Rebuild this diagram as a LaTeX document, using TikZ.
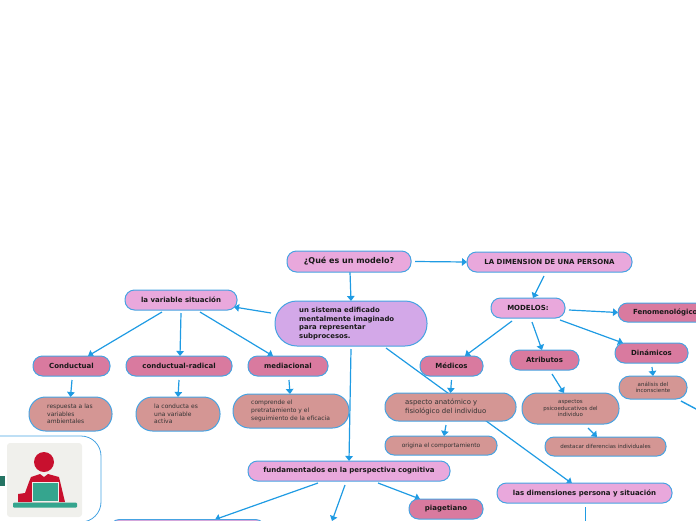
\documentclass[tikz,border=0pt]{standalone}
\usepackage{fontspec}
\setmainfont{DejaVu Sans}
\usetikzlibrary{arrows.meta,backgrounds}
\definecolor{linkblue}{HTML}{1F9BE3}
\definecolor{edgeblue}{HTML}{46A3E2}
\definecolor{pinkfill}{HTML}{E9A8DC}
\definecolor{lilacfill}{HTML}{D3A8E8}
\definecolor{rosefill}{HTML}{D97A9F}
\definecolor{salmonfill}{HTML}{D49694}
\definecolor{redfig}{HTML}{C8102E}
\definecolor{greenfig}{HTML}{35A58E}
\definecolor{greyfig}{HTML}{F0F0EC}
\begin{document}
\begin{tikzpicture}[x=1pt,y=-1pt]
    \tikzset{
        box/.style={draw=edgeblue,line width=1pt,rounded corners=#1,inner sep=0pt,outer sep=0pt},
        box/.default=9.5pt,
        pinkbox/.style={box,fill=pinkfill,font=\bfseries\fontsize{7}{8}\selectfont,text=black!90},
        rosebox/.style={box,fill=rosefill,font=\bfseries\fontsize{7}{8}\selectfont,text=black!90},
        salmonbox/.style={box=#1,fill=salmonfill,font=\fontsize{5.5}{7}\selectfont,text=black!80},
        salmonbox/.default=16.5pt,
        lefttext/.style={anchor=west,align=left,inner sep=0pt,font=\fontsize{6}{7.7}\selectfont,text=black!80},
        link/.style={draw=linkblue,line width=1.2pt,-{Triangle[width=7.5pt,length=5pt]}},
        plainlink/.style={draw=linkblue,line width=1.4pt}
    }
    \useasboundingbox (0,0) rectangle (696,520);
    % top row
    \node [pinkbox,minimum width=124pt,minimum height=21pt,font=\bfseries\fontsize{8}{9}\selectfont] (modelo) at (349,261.5) {¿Qué es un modelo?};
    \node [pinkbox,minimum width=165pt,minimum height=20pt,font=\bfseries\fontsize{7}{8}\selectfont] (dimension) at (549.5,262) {LA DIMENSION DE UNA PERSONA};
    \node [box=22pt,fill=lilacfill,minimum width=152pt,minimum height=45pt] (sistema) at (351,323.5) {};
    \node [lefttext,font=\bfseries\fontsize{6.9}{8.8}\selectfont,text=black!90] (sistematext) at (299,323.5) {un sistema edificado\\mentalmente imaginado\\para representar\\subprocesos.};
    % left branch
    \node [pinkbox,minimum width=112pt,minimum height=20pt] (situacion) at (181,300) {la variable situación};
    \node [rosebox,minimum width=77pt,minimum height=20pt] (conductual) at (71.5,366) {Conductual};
    \node [rosebox,minimum width=106pt,minimum height=20pt] (radical) at (179,366) {conductual-radical};
    \node [rosebox,minimum width=80pt,minimum height=20pt] (mediacional) at (288,366) {mediacional};
    \node [salmonbox,minimum width=83pt,minimum height=34pt] (respuesta) at (70.5,414) {};
    \node [lefttext] (respuestatext) at (47,414) {respuesta a las\\variables\\ambientales};
    \node [salmonbox,minimum width=84pt,minimum height=34pt] (activa) at (178,414) {};
    \node [lefttext] (activatext) at (154,414) {la conducta es\\una variable\\activa};
    \node [salmonbox,minimum width=116pt,minimum height=34pt] (comprende) at (291,411) {};
    \node [lefttext] (comprendetext) at (251,411) {comprende el\\pretratamiento y el\\seguimiento de la eficacia};
    % centre
    \node [pinkbox,minimum width=202pt,minimum height=20pt] (cognitiva) at (349,471) {fundamentados en la perspectiva cognitiva};
    \node [rosebox,minimum width=74pt,minimum height=20pt] (piagetiano) at (446,509) {piagetiano};
    \node [pinkbox,minimum width=155pt,minimum height=20pt] (oculto) at (187.5,529.5) {};
    \coordinate (abajo) at (332,521);
    \node [rosebox,minimum width=63pt,minimum height=20pt] (medicos) at (451.5,366) {Médicos};
    \node [salmonbox=13.5pt,minimum width=131pt,minimum height=28pt] (anatomico) at (450.5,407) {};
    \node [lefttext,font=\fontsize{6.9}{8.2}\selectfont] (anatomicotext) at (405,407) {aspecto anatómico y\\fisiológico del individuo};
    \node [salmonbox=9pt,minimum width=112pt,minimum height=19pt,font=\fontsize{5.9}{7}\selectfont] (origina) at (441,445.5) {origina el comportamiento};
    % right branch
    \node [pinkbox,minimum width=74pt,minimum height=20pt] (modelos) at (528,308) {MODELOS:};
    \node [rosebox,anchor=west,minimum width=100pt,minimum height=19pt,text width=100pt,align=left] (fenomeno) at (618,312.5) {\hspace*{15pt}Fenomenológico};
    \node [rosebox,minimum width=73pt,minimum height=20pt] (dinamicos) at (651.5,353) {Dinámicos};
    \node [rosebox,minimum width=69pt,minimum height=20pt] (atributos) at (544.5,360) {Atributos};
    \node [salmonbox=11pt,minimum width=68pt,minimum height=23pt,font=\fontsize{5.5}{6.6}\selectfont,align=center] (analisis) at (653,387.5) {análisis del\\inconsciente};
    \node [salmonbox=15pt,minimum width=97pt,minimum height=31pt,font=\fontsize{5.5}{6.6}\selectfont,align=center] (psico) at (570.5,408.5) {aspectos\\psicoeducativos del\\individuo};
    \node [salmonbox=9pt,minimum width=121pt,minimum height=19pt] (destacar) at (605.5,446.5) {destacar diferencias individuales};
    \node [pinkbox,minimum width=175pt,minimum height=20pt] (personas) at (584.5,493) {las dimensiones persona y situación};
    \coordinate (fueraderecha) at (697,409.5);
    \coordinate (fueraabajo) at (585.5,521);
    % connectors
    \begin{pgfonlayer}{background}
    \draw [link] ([xshift=4pt]modelo.east) -- (dimension.west);
    \draw [link] ([xshift=1pt]modelo.south) -- (sistema.north);
    \draw [link] ([xshift=-4pt,yshift=10.5pt]sistema.west) -- ([xshift=-3pt,yshift=-7pt]situacion.east);
    \draw [link] ([xshift=-19pt,yshift=-2pt]situacion.south) -- ([xshift=16.5pt]conductual.north);
    \draw [link] ([yshift=-3pt]situacion.south) -- ([xshift=1pt]radical.north);
    \draw [link] ([xshift=19pt,yshift=-2pt]situacion.south) -- ([xshift=-15pt]mediacional.north);
    \draw [link] ([xshift=0.5pt,yshift=-4pt]conductual.south) -- (respuesta.north);
    \draw [link] ([yshift=-4pt]radical.south) -- (activa.north);
    \draw [link] ([xshift=1pt,yshift=-4pt]mediacional.south) -- ([xshift=-1pt]comprende.north);
    \draw [link] ([yshift=-3pt]sistema.south) -- (cognitiva.north);
    \draw [link] ([xshift=35pt,yshift=-2pt]sistema.south) -- ([xshift=-12.5pt,yshift=-0.5pt]personas.north);
    \draw [link] ([xshift=-31pt,yshift=-2pt]cognitiva.south) -- ([xshift=27.5pt]oculto.north);
    \draw [link] ([xshift=-4pt,yshift=-4pt]cognitiva.south) -- (abajo);
    \draw [link] ([xshift=29pt,yshift=-2pt]cognitiva.south) -- ([xshift=-26pt]piagetiano.north);
    \draw [link] ([xshift=-16pt,yshift=-3pt]modelos.south) -- ([xshift=13.5pt]medicos.north);
    \draw [link] ([xshift=4pt,yshift=-4pt]modelos.south) -- ([xshift=-2.5pt]atributos.north);
    \draw [link] ([xshift=32pt,yshift=-2pt]modelos.south) -- ([xshift=-28.5pt]dinamicos.north);
    \draw [link] ([xshift=4pt,yshift=-2pt]modelos.east) -- (fenomeno.west);
    \draw [link] ([xshift=-5.5pt,yshift=-4pt]dimension.south) -- ([xshift=5pt]modelos.north);
    \draw [link] ([yshift=-4pt]medicos.south) -- (anatomico.north);
    \draw [link] ([xshift=-4.5pt,yshift=-4pt]anatomico.south) -- ([xshift=3pt]origina.north);
    \draw [link] ([xshift=7.5pt,yshift=-4pt]atributos.south) -- ([xshift=-6.5pt]psico.north);
    \draw [link] ([xshift=17.5pt,yshift=-4pt]psico.south) -- ([xshift=-8.5pt]destacar.north);
    \draw [link] ([xshift=0.5pt,yshift=-4pt]dinamicos.south) -- (analisis.north);
    \draw [plainlink] ([xshift=28pt,yshift=-2pt]analisis.south) -- (fueraderecha);
    \draw [plainlink] ([xshift=1pt,yshift=-4pt]personas.south) -- (fueraabajo);
    \end{pgfonlayer}
    % person picture
    \node [draw=edgeblue,line width=0.8pt,rounded corners=20pt,minimum width=140pt,minimum height=86pt,inner sep=0pt] (retrato) at (31,479) {};
    \fill [greyfig,rounded corners=3pt] (7,443) rectangle (82,517);
    \fill [redfig] (44,462) circle (10);
    \fill [redfig] (31,477) -- (40,474) -- (44,477) -- (48,474) -- (59,477) -- (65,502) -- (18,502) -- (18,494) -- (25,493) -- (29,482) -- cycle;
    \fill [greenfig,draw=greyfig,line width=0.8pt] (32,482) rectangle (58,501);
    \fill [greenfig,rounded corners=1pt] (13,502.5) rectangle (77,507.5);
    \fill [greenfig!70!black] (0,476) rectangle (4.5,486);
\end{tikzpicture}
\end{document}
